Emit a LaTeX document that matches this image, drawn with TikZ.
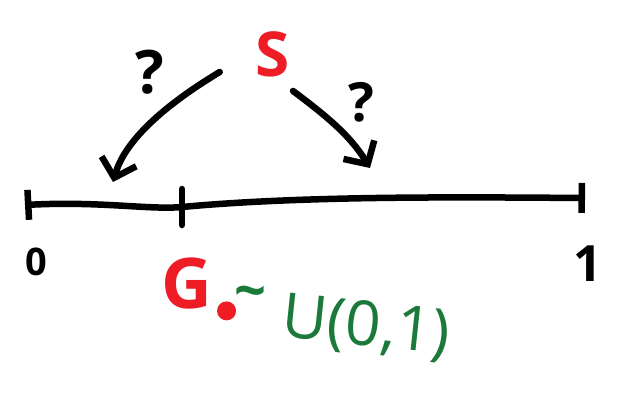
\documentclass[tikz,border=0pt]{standalone}
\usepackage{fontspec}
\setmainfont{Open Sans}
\usepackage{tikz}
\usetikzlibrary{arrows.meta, positioning}
\definecolor{Marker_Red}{HTML}{EE1C25}
\definecolor{Marker_Green}{HTML}{1B7A3A}

\begin{document}
\begin{tikzpicture}[x=1pt, y=-1pt,
    pen/.style={line width=6.5pt, line cap=round},
    guess/.style={pen, -{Straight Barb[length=17pt, width=36pt, line width=6.5pt]}},
    hand/.style={inner sep=0pt, font=\fontsize{#1}{#1}\selectfont\bfseries},
  ]

    % frame: the picture is 628 x 396, y runs downward
    \useasboundingbox (0,0) rectangle (628,396);

    % === unit interval [0,1] ===
    \coordinate (p0) at (25,205);
    \coordinate (g0) at (182,207);
    \coordinate (p1) at (585,198);
    \draw[pen, {Bar[width=30pt, line width=6.5pt]}-{Bar[width=30pt, line width=6.5pt]}]
        (p0) .. controls (100,201) and (150,210) .. (g0)
             .. controls (300,196) and (450,197) .. (p1);
    \draw[pen] (182,189) -- (182,225);

    \node[hand=38pt] (zero) at (36,262) {0};
    \node[hand=50pt] (one) at (588,264) {1};

    % === the seed S and its two guesses ===
    \node[hand=62pt, text=Marker_Red] (seed) at (273,54) {S};
    \node[hand=60pt] (qleft) at (150,72) {?};
    \node[hand=54pt] (qright) at (361,102) {?};

    \coordinate (hitleft) at (113,182);
    \coordinate (hitright) at (370,168);
    \draw[guess] (seed.west) ++(-36,18) .. controls (165,105) and (125,140) .. (hitleft);
    \draw[guess] (seed.south) ++(20,14) .. controls (325,115) and (350,135) .. (hitright);

    % === G_0 drawn uniformly ===
    \node[hand=70pt, text=Marker_Red] (gzero) at (187,283) {G};
    \fill[Marker_Red] (gzero.south east) ++(14,2) circle (9.5pt);
    \node[hand=56pt, text=Marker_Green] (tilde) at (250,298) {\textasciitilde};
    \node[inner sep=0pt, font=\fontsize{62pt}{62pt}\selectfont, text=Marker_Green, rotate=-6] (unif) at (366,328) {U(0,1)};

\end{tikzpicture}
\end{document}
